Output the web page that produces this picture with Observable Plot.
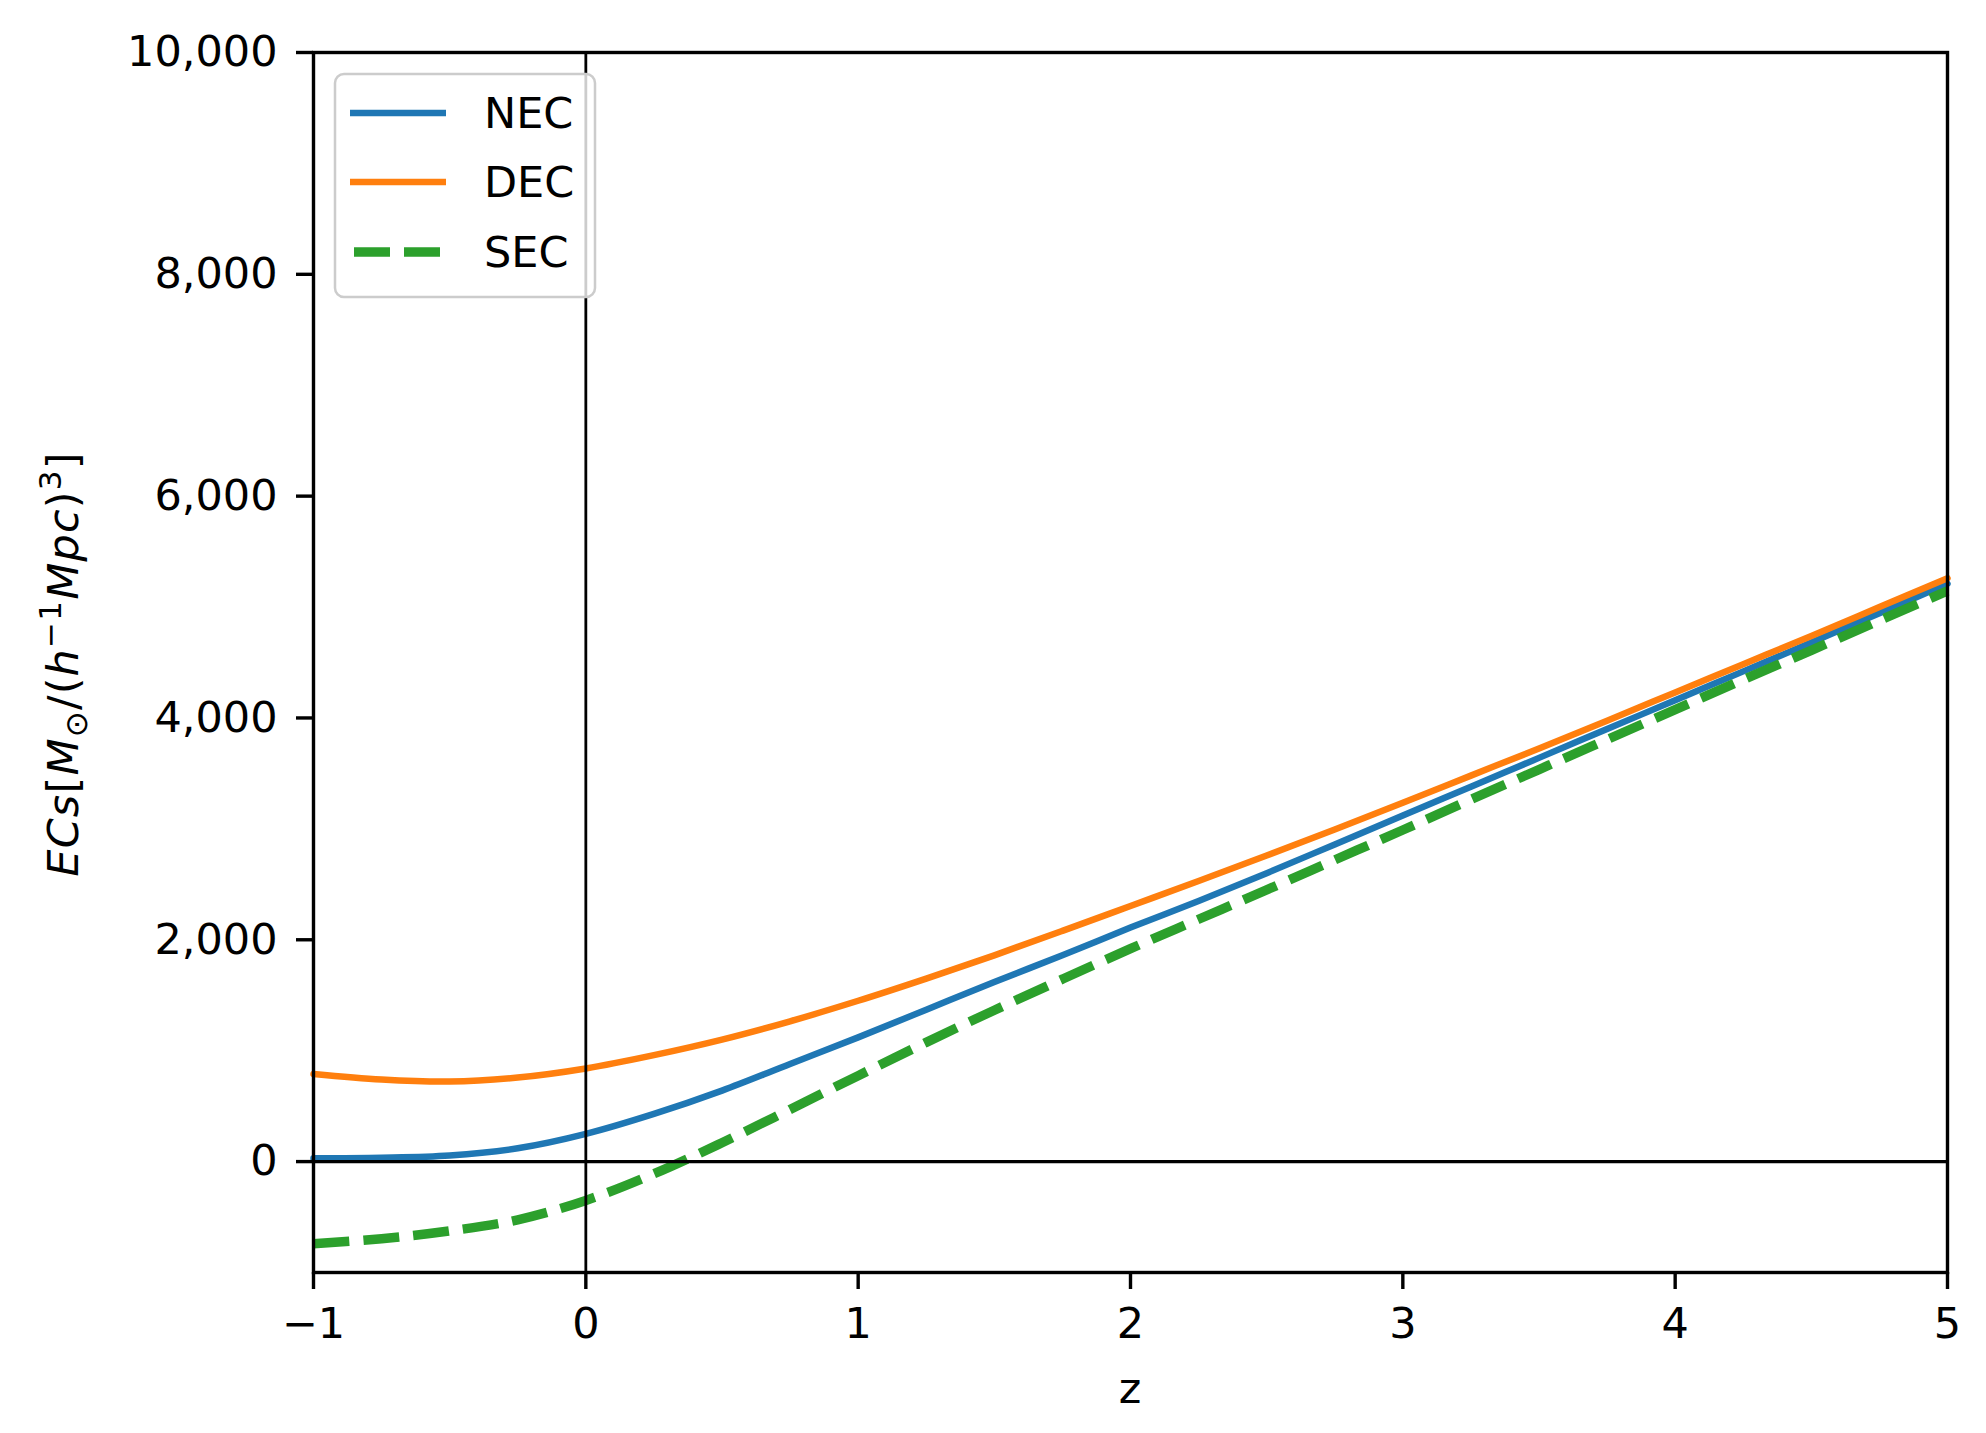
<!DOCTYPE html>
<html>
<head>
<meta charset="utf-8">
<script src="https://cdn.jsdelivr.net/npm/d3@7"></script>
<script src="https://cdn.jsdelivr.net/npm/@observablehq/plot@0.6"></script>
<style>
  html, body { margin: 0; padding: 0; background: white; }
  #chart svg { display: block; }
</style>
</head>
<body>
<div id="chart"></div>
<script>
// redshift grid
const z = [-1, -0.75, -0.5, -0.25, 0, 0.25, 0.5, 0.75, 1, 1.25, 1.5, 1.75, 2, 2.25, 2.5, 2.75, 3, 3.25, 3.5, 3.75, 4, 4.25, 4.5, 4.75, 5];
// energy conditions
const nec = [30, 35, 55, 120, 250, 430, 640, 880, 1120, 1370, 1620, 1860, 2110, 2350, 2600, 2860, 3120, 3380, 3640, 3900, 4160, 4420, 4680, 4945, 5210];
const dec = [790, 740, 722, 758, 840, 960, 1100, 1265, 1450, 1650, 1860, 2080, 2305, 2530, 2760, 2995, 3235, 3480, 3725, 3975, 4230, 4485, 4740, 5000, 5260];
const sec = [-740, -695, -625, -525, -350, -110, 170, 470, 775, 1075, 1365, 1645, 1920, 2185, 2450, 2720, 2990, 3265, 3535, 3805, 4075, 4345, 4610, 4880, 5145];
const seriesNames = ["NEC", "DEC", "SEC"];
const seriesColors = ["#1f77b4", "#ff7f0e", "#2ca02c"];
const xTicks = [-1, 0, 1, 2, 3, 4, 5];
const yTicks = [0, 2000, 4000, 6000, 8000, 10000];

const toRows = (vals) => z.map((zz, i) => ({z: zz, v: vals[i]}));

const W = 1986, H = 1433;
const mL = 313, mR = 39, mT = 52, mB = 161;

const chart = Plot.plot({
  width: W, height: H,
  marginLeft: mL, marginRight: mR, marginTop: mT, marginBottom: mB,
  x: {domain: [-1, 5]},
  y: {domain: [-1000, 10000]},
  style: {fontFamily: "DejaVu Sans", fontSize: "43px", color: "black", background: "white"},
  marks: [
    Plot.line(toRows(nec), {x: "z", y: "v", stroke: seriesColors[0], strokeWidth: 6.5, curve: "catmull-rom"}),
    Plot.line(toRows(dec), {x: "z", y: "v", stroke: seriesColors[1], strokeWidth: 6.5, curve: "catmull-rom"}),
    Plot.line(toRows(sec), {x: "z", y: "v", stroke: seriesColors[2], strokeWidth: 9.5, strokeDasharray: "36,14", strokeLinecap: "butt", curve: "catmull-rom"}),
    Plot.ruleY([0], {stroke: "black", strokeWidth: 3.4}),
    Plot.ruleX([0], {stroke: "black", strokeWidth: 2.8}),
    Plot.frame({stroke: "black", strokeWidth: 3.4}),
    Plot.axisX(xTicks, {tickSize: 17, tickPadding: 18, strokeWidth: 3.4, tickFormat: d3.format(","), label: null, fontSize: 43}),
    Plot.axisY(yTicks, {tickSize: 17, tickPadding: 19, strokeWidth: 3.4, tickFormat: d3.format(","), label: null, fontSize: 43})
  ]
});

document.getElementById("chart").appendChild(chart);

const svg = d3.select(chart);
const font = "DejaVu Sans";

// x label
svg.append("text")
  .attr("x", (mL + (W - mR)) / 2).attr("y", 1403)
  .attr("text-anchor", "middle")
  .attr("font-family", font).attr("font-size", 43)
  .text("z");

// y label (math style)
const yl = svg.append("text")
  .attr("transform", "translate(78,664) rotate(-90)")
  .attr("text-anchor", "middle")
  .attr("font-family", font).attr("font-size", 43)
  .attr("letter-spacing", 1.2);
const parts = [
  {t: "ECs", it: true},
  {t: "[", it: false},
  {t: "M", it: true},
  {t: "\u2299", it: false, sub: true},
  {t: "/(", it: false},
  {t: "h", it: true},
  {t: "\u22121", it: false, sup: true},
  {t: "Mpc", it: true},
  {t: ")", it: false},
  {t: "3", it: false, sup: true},
  {t: "]", it: false}
];
let shift = 0;
parts.forEach(p => {
  const ts = yl.append("tspan").text(p.t);
  if (p.it) ts.attr("font-style", "italic");
  let target = 0;
  if (p.sub) target = 9;
  if (p.sup) target = -17;
  if (p.sub || p.sup) ts.attr("font-size", 31);
  ts.attr("dy", target - shift);
  shift = target;
});

// legend
const lg = svg.append("g");
lg.append("rect")
  .attr("x", 335).attr("y", 74).attr("width", 260).attr("height", 223)
  .attr("rx", 9).attr("ry", 9)
  .attr("fill", "white").attr("fill-opacity", 0.8)
  .attr("stroke", "#cccccc").attr("stroke-width", 2.5);
const rowsY = [113, 182, 252];
seriesNames.forEach((name, i) => {
  const ln = lg.append("line")
    .attr("x1", 350).attr("x2", 446)
    .attr("y1", rowsY[i]).attr("y2", rowsY[i])
    .attr("stroke", seriesColors[i]);
  if (i === 2) {
    ln.attr("x1", 354).attr("stroke-width", 9.5).attr("stroke-dasharray", "36,14").attr("stroke-linecap", "butt");
  } else {
    ln.attr("stroke-width", 6.5);
  }
  lg.append("text")
    .attr("x", 484).attr("y", rowsY[i]).attr("dy", "0.36em")
    .attr("text-anchor", "start")
    .attr("font-family", font).attr("font-size", 43)
    .text(name);
});
</script>
</body>
</html>
